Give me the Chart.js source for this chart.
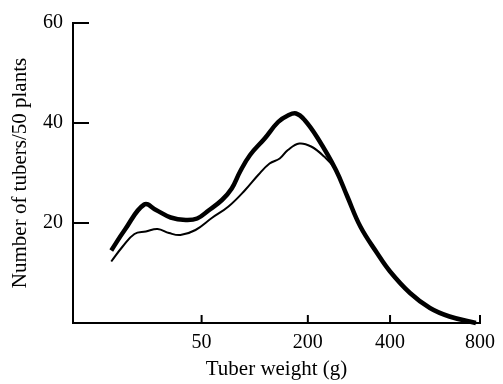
<!DOCTYPE html>
<html>
<head>
<meta charset="utf-8">
<script src="https://cdn.jsdelivr.net/npm/chart.js@4/dist/chart.umd.min.js"></script>
<style>
  html, body { margin: 0; padding: 0; background: #fff; }
  #wrap { width: 503px; height: 384px; }
</style>
</head>
<body>
<div id="wrap"><canvas id="c" width="503" height="384"></canvas></div>
<script>
// x is read in axis units (0 = y-axis, 100 = the "800" end of the axis)
const xTickAt     = [31.6, 57.7, 77.9, 100];
const xTickLabels = ['50', '200', '400', '800'];
const yTicks      = [20, 40, 60];

const thickX = [9.4, 12.7, 17.5, 20.4, 24.0, 27.7, 30.5, 33.3, 36.6, 39.0, 41.0, 43.5, 47.1, 50.4, 52.8, 54.8, 56.9, 60.1, 64.6, 67.4, 70.6, 74.7, 77.9, 82.8, 87.7, 92.5, 99.0];
const thickY = [14.5, 18.6, 23.7, 22.6, 21.1, 20.6, 20.9, 22.5, 24.6, 26.9, 30.2, 33.6, 36.9, 40.2, 41.5, 41.9, 40.6, 37.0, 30.6, 25.3, 19.3, 14.0, 10.3, 6.0, 3.0, 1.3, 0.0];

const thinX = [9.4, 12.2, 15.1, 17.9, 20.8, 23.6, 26.4, 30.1, 34.1, 38.2, 42.3, 45.5, 48.3, 50.8, 52.8, 55.6, 58.5, 61.7, 64.2, 67.4, 70.6, 74.7, 77.9, 82.8, 87.7, 92.5, 99.0];
const thinY = [12.3, 15.3, 17.8, 18.3, 18.8, 18.0, 17.6, 18.6, 21.0, 23.3, 26.6, 29.6, 31.9, 32.9, 34.6, 35.9, 35.3, 33.3, 31.0, 25.3, 19.3, 14.0, 10.3, 6.0, 3.0, 1.3, 0.0];

const toPts = (xs, ys) => xs.map((x, i) => ({ x: x, y: ys[i] }));

const FONT = "'Liberation Serif', 'Times New Roman', serif";

const inwardTicks = {
  id: 'inwardTicks',
  afterDraw(chart) {
    const ctx = chart.ctx;
    const xs = chart.scales.x, ys = chart.scales.y;
    const area = chart.chartArea;
    ctx.save();
    ctx.strokeStyle = '#000';
    ctx.lineWidth = 2;
    ctx.lineCap = 'butt';
    ys.ticks.forEach(t => {
      const py = ys.getPixelForValue(t.value);
      ctx.beginPath();
      ctx.moveTo(area.left, py);
      ctx.lineTo(area.left + 16, py);
      ctx.stroke();
    });
    xs.ticks.forEach(t => {
      const px = xs.getPixelForValue(t.value);
      ctx.beginPath();
      ctx.moveTo(px, area.bottom);
      ctx.lineTo(px, area.bottom - 8);
      ctx.stroke();
    });
    ctx.restore();
  }
};

new Chart(document.getElementById('c'), {
  type: 'line',
  data: {
    datasets: [
      {
        data: toPts(thinX, thinY),
        borderColor: '#000',
        borderWidth: 2,
        pointRadius: 0,
        tension: 0.4,
        fill: false,
        clip: false
      },
      {
        data: toPts(thickX, thickY),
        borderColor: '#000',
        borderWidth: 4.5,
        pointRadius: 0,
        tension: 0.4,
        fill: false,
        clip: false
      }
    ]
  },
  options: {
    responsive: false,
    animation: false,
    events: [],
    layout: { padding: { top: 23, right: 19, left: 0, bottom: 0 } },
    plugins: { legend: { display: false }, tooltip: { enabled: false } },
    scales: {
      x: {
        type: 'linear',
        min: 0,
        max: 100,
        afterBuildTicks: s => { s.ticks = xTickAt.map(v => ({ value: v })); },
        afterFit: s => { s.height = 61; },
        grid: { display: false, drawTicks: false },
        border: { display: true, color: '#000', width: 2 },
        ticks: {
          padding: 8,
          color: '#000',
          font: { family: FONT, size: 20 },
          maxRotation: 0,
          autoSkip: false,
          callback: v => xTickLabels[xTickAt.indexOf(v)]
        },
        title: {
          display: true,
          text: 'Tuber weight (g)',
          color: '#000',
          font: { family: FONT, size: 21 },
          padding: { top: 0, bottom: 2 }
        }
      },
      y: {
        type: 'linear',
        min: 0,
        max: 60,
        afterBuildTicks: s => { s.ticks = yTicks.map(v => ({ value: v })); },
        afterFit: s => { s.width = 73; },
        grid: { display: false, drawTicks: false },
        border: { display: true, color: '#000', width: 2 },
        ticks: {
          padding: 10,
          color: '#000',
          font: { family: FONT, size: 20 }
        },
        title: {
          display: true,
          text: 'Number of tubers/50 plants',
          color: '#000',
          font: { family: FONT, size: 21 },
          padding: { top: 8, bottom: 0 }
        }
      }
    }
  },
  plugins: [inwardTicks]
});
</script>
</body>
</html>
